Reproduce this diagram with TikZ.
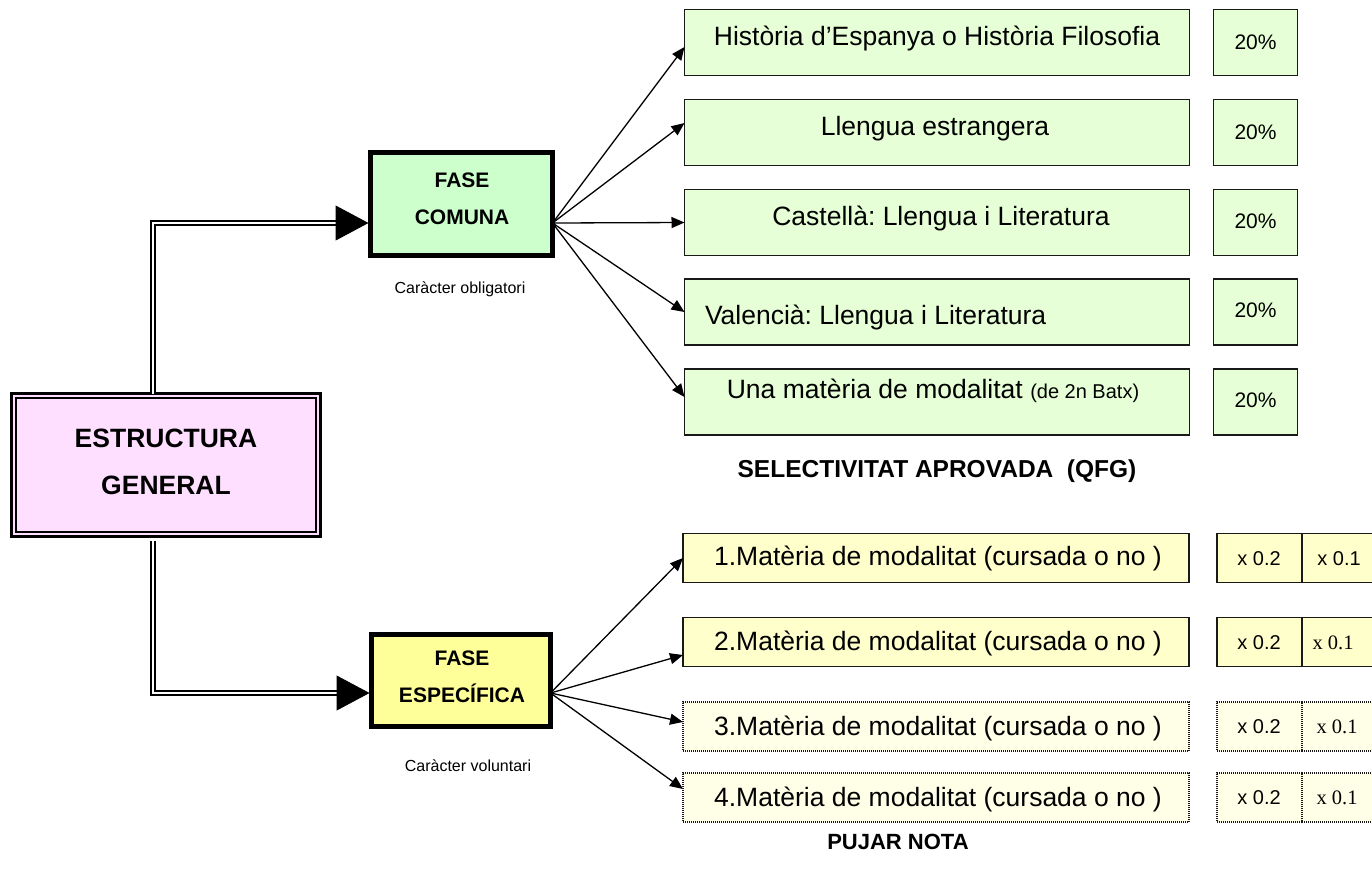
\documentclass[tikz,border=0pt]{standalone}
\usepackage{fontspec}
\setmainfont{Liberation Sans}
\newfontfamily\tmsfont{Liberation Serif}
\usetikzlibrary{arrows.meta}
\definecolor{pinkf}{HTML}{FFDFFF}
\definecolor{fcf}{HTML}{CCFFCC}
\definecolor{gf}{HTML}{E6FFD6}
\definecolor{fef}{HTML}{FFFF99}
\definecolor{yf}{HTML}{FFFFCC}
\definecolor{ydf}{HTML}{FFFFE8}
\frenchspacing
\begin{document}
\begin{tikzpicture}[x=1pt,y=-1pt,
  every node/.style={inner sep=0pt,outer sep=0pt},
  estbox/.style={draw=black,line width=3pt,fill=pinkf,minimum width=309pt,minimum height=143pt},
  phase/.style={draw=black,line width=5pt},
  gbox/.style={draw=black!90,line width=1.5pt,fill=gf,minimum width=505pt,minimum height=66pt},
  pbox/.style={gbox,minimum width=84pt},
  ybox/.style={draw=black!90,line width=1.5pt,fill=yf,minimum width=506pt,minimum height=49pt},
  ydot/.style={draw=black!90,line width=1.2pt,dash pattern=on 1pt off 1pt,fill=ydf,minimum width=506pt,minimum height=49pt},
  mbox/.style={draw=black!90,line width=1.5pt,fill=yf,minimum height=49pt},
  mdot/.style={draw=black!90,line width=1.2pt,dash pattern=on 1pt off 1pt,fill=ydf,minimum height=49pt},
  big/.style={font=\fontsize{26.5}{30}\selectfont},
  small/.style={font=\fontsize{16}{19}\selectfont},
  pct/.style={font=\fontsize{21}{24}\selectfont},
  mul/.style={font=\fontsize{20}{24}\selectfont},
  mulser/.style={font=\fontsize{20.5}{24}\selectfont\tmsfont},
  bhead/.style={font=\fontsize{26.5}{30}\selectfont\bfseries},
  bphase/.style={font=\fontsize{21}{24}\selectfont\bfseries},
  bsec/.style={font=\fontsize{24.5}{30}\selectfont\bfseries},
  bsecb/.style={font=\fontsize{22}{26}\selectfont\bfseries},
  dbl/.style={draw=black,double=white,line width=1.5pt,double distance=2.5pt},
  thinarr/.style={draw=black,line width=1.3pt,-{Triangle[length=13pt,width=11pt]}},
  bigarr/.style={draw=black,line width=1pt,-{Triangle[length=33pt,width=35pt]}}
]
\useasboundingbox (0,0) rectangle (1372,879);
\clip (0,0) rectangle (1372,879);

% main structure box
\node[estbox] (est) at (166,465) {};
\draw[line width=1.8pt] ([shift={(4.5,4.5)}]est.north west) rectangle ([shift={(-4.5,-4.5)}]est.south east);
\node[bhead,anchor=base] (estA) at (166,447.5) {ESTRUCTURA};
\node[bhead,anchor=base] (estB) at (166,494.5) {GENERAL};

% phase boxes
\node[phase,fill=fcf,minimum width=182pt,minimum height=103pt] (fc) at (461.5,204) {};
\node[bphase,anchor=base] (fcA) at (462,187.5) {FASE};
\node[bphase,anchor=base] (fcB) at (462,224.5) {COMUNA};
\node[small,anchor=base] (fcC) at (460,293) {Caràcter obligatori};

\node[phase,fill=fef,minimum width=179pt,minimum height=92pt] (fe) at (461,680.5) {};
\node[bphase,anchor=base] (feA) at (462,665.5) {FASE};
\node[bphase,anchor=base] (feB) at (462,702.5) {ESPECÍFICA};
\node[small,anchor=base] (feC) at (468,771) {Caràcter voluntari};

% double connectors with big arrows
\draw[dbl] ([xshift=-13pt]est.north) |- ([xshift=-33pt,yshift=-19pt]fc.west);
\draw[bigarr] ([xshift=-34pt,yshift=-19pt]fc.west) -- ([xshift=-2pt,yshift=-19pt]fc.west);
\draw[dbl] ([xshift=-13pt,yshift=-4pt]est.south) |- ([xshift=-33pt,yshift=-12.5pt]fe.west);
\draw[bigarr] ([xshift=-34pt,yshift=-12.5pt]fe.west) -- ([xshift=-2pt,yshift=-12.5pt]fe.west);

% common phase subjects
\node[gbox] (g1) at (937,42.5) {};
\node[gbox] (g2) at (937,132.5) {};
\node[gbox] (g3) at (937,222.5) {};
\node[gbox] (g4) at (937,312) {};
\node[gbox] (g5) at (937,402) {};
\node[big,anchor=base] (t1) at (937,45) {Història d’Espanya o Història Filosofia};
\node[big,anchor=base] (t2) at (935,135) {Llengua estrangera};
\node[big,anchor=base] (t3) at (941,225) {Castellà: Llengua i Literatura};
\node[big,anchor=base west] (t4) at (705,324) {Valencià: Llengua i Literatura};
\node[big,anchor=base] (t5) at (933,398) {Una matèria de modalitat {\fontsize{20}{24}\selectfont(de 2n Batx)}};

\node[pbox] (p1) at (1255.5,42.5) {};
\node[pbox] (p2) at (1255.5,132.5) {};
\node[pbox] (p3) at (1255.5,222.5) {};
\node[pbox] (p4) at (1255.5,312) {};
\node[pbox] (p5) at (1255.5,402) {};
\node[pct,anchor=base] (q1) at (1255.5,49.5) {20\%};
\node[pct,anchor=base] (q2) at (1255.5,139.5) {20\%};
\node[pct,anchor=base] (q3) at (1255.5,228.5) {20\%};
\node[pct,anchor=base] (q4) at (1255.5,317.5) {20\%};
\node[pct,anchor=base] (q5) at (1255.5,407.5) {20\%};

\draw[thinarr] ([yshift=-19pt]fc.east) -- ([yshift=-4.5pt]g1.west);
\draw[thinarr] ([yshift=-19pt]fc.east) -- ([yshift=9.5pt]g2.west);
\draw[thinarr] ([yshift=-19pt]fc.east) -- (g3.west);
\draw[thinarr] ([yshift=-19pt]fc.east) -- (g4.west);
\draw[thinarr] ([yshift=-19pt]fc.east) -- ([yshift=5pt]g5.west);

\node[bsec,anchor=base] (sel) at (937,477) {SELECTIVITAT APROVADA\ \ (QFG)};

% specific phase subjects
\node[ybox] (y1) at (936,558) {};
\node[ybox] (y2) at (936,642) {};
\node[ydot] (y3) at (936,726.5) {};
\node[ydot] (y4) at (936,797.5) {};
\node[big,anchor=base] (s1) at (938,565) {1.Matèria de modalitat (cursada o no )};
\node[big,anchor=base] (s2) at (938,650) {2.Matèria de modalitat (cursada o no )};
\node[big,anchor=base] (s3) at (938,735) {3.Matèria de modalitat (cursada o no )};
\node[big,anchor=base] (s4) at (938,806) {4.Matèria de modalitat (cursada o no )};

\node[mbox,minimum width=85pt] (ma1) at (1259.5,558) {};
\node[mbox,minimum width=93pt] (mb1) at (1348.5,558) {};
\node[mbox,minimum width=85pt] (ma2) at (1259.5,642) {};
\node[mbox,minimum width=93pt] (mb2) at (1348.5,642) {};
\node[mdot,minimum width=85pt] (ma3) at (1259.5,726.5) {};
\node[mdot,minimum width=93pt] (mb3) at (1348.5,726.5) {};
\node[mdot,minimum width=85pt] (ma4) at (1259.5,797.5) {};
\node[mdot,minimum width=93pt] (mb4) at (1348.5,797.5) {};
\node[mul,anchor=base] (xa1) at (1259,565) {x 0.2};
\node[mul,anchor=base] (xb1) at (1339,565) {x 0.1};
\node[mul,anchor=base] (xa2) at (1259,649) {x 0.2};
\node[mulser,anchor=base] (xb2) at (1333,649) {x 0.1};
\node[mul,anchor=base] (xa3) at (1259,733.5) {x 0.2};
\node[mulser,anchor=base] (xb3) at (1337,733.5) {x 0.1};
\node[mul,anchor=base] (xa4) at (1259,804.5) {x 0.2};
\node[mulser,anchor=base] (xb4) at (1337,804.5) {x 0.1};

\draw[thinarr] ([yshift=-12.5pt]fe.east) -- (y1.west);
\draw[thinarr] ([yshift=-12.5pt]fe.east) -- ([yshift=-13pt]y2.west);
\draw[thinarr] ([yshift=-12.5pt]fe.east) -- ([yshift=4.5pt]y3.west);
\draw[thinarr] ([yshift=-12.5pt]fe.east) -- ([yshift=8.5pt]y4.west);

\node[bsecb,anchor=base] (pn) at (898,849) {PUJAR NOTA};
\end{tikzpicture}
\end{document}
